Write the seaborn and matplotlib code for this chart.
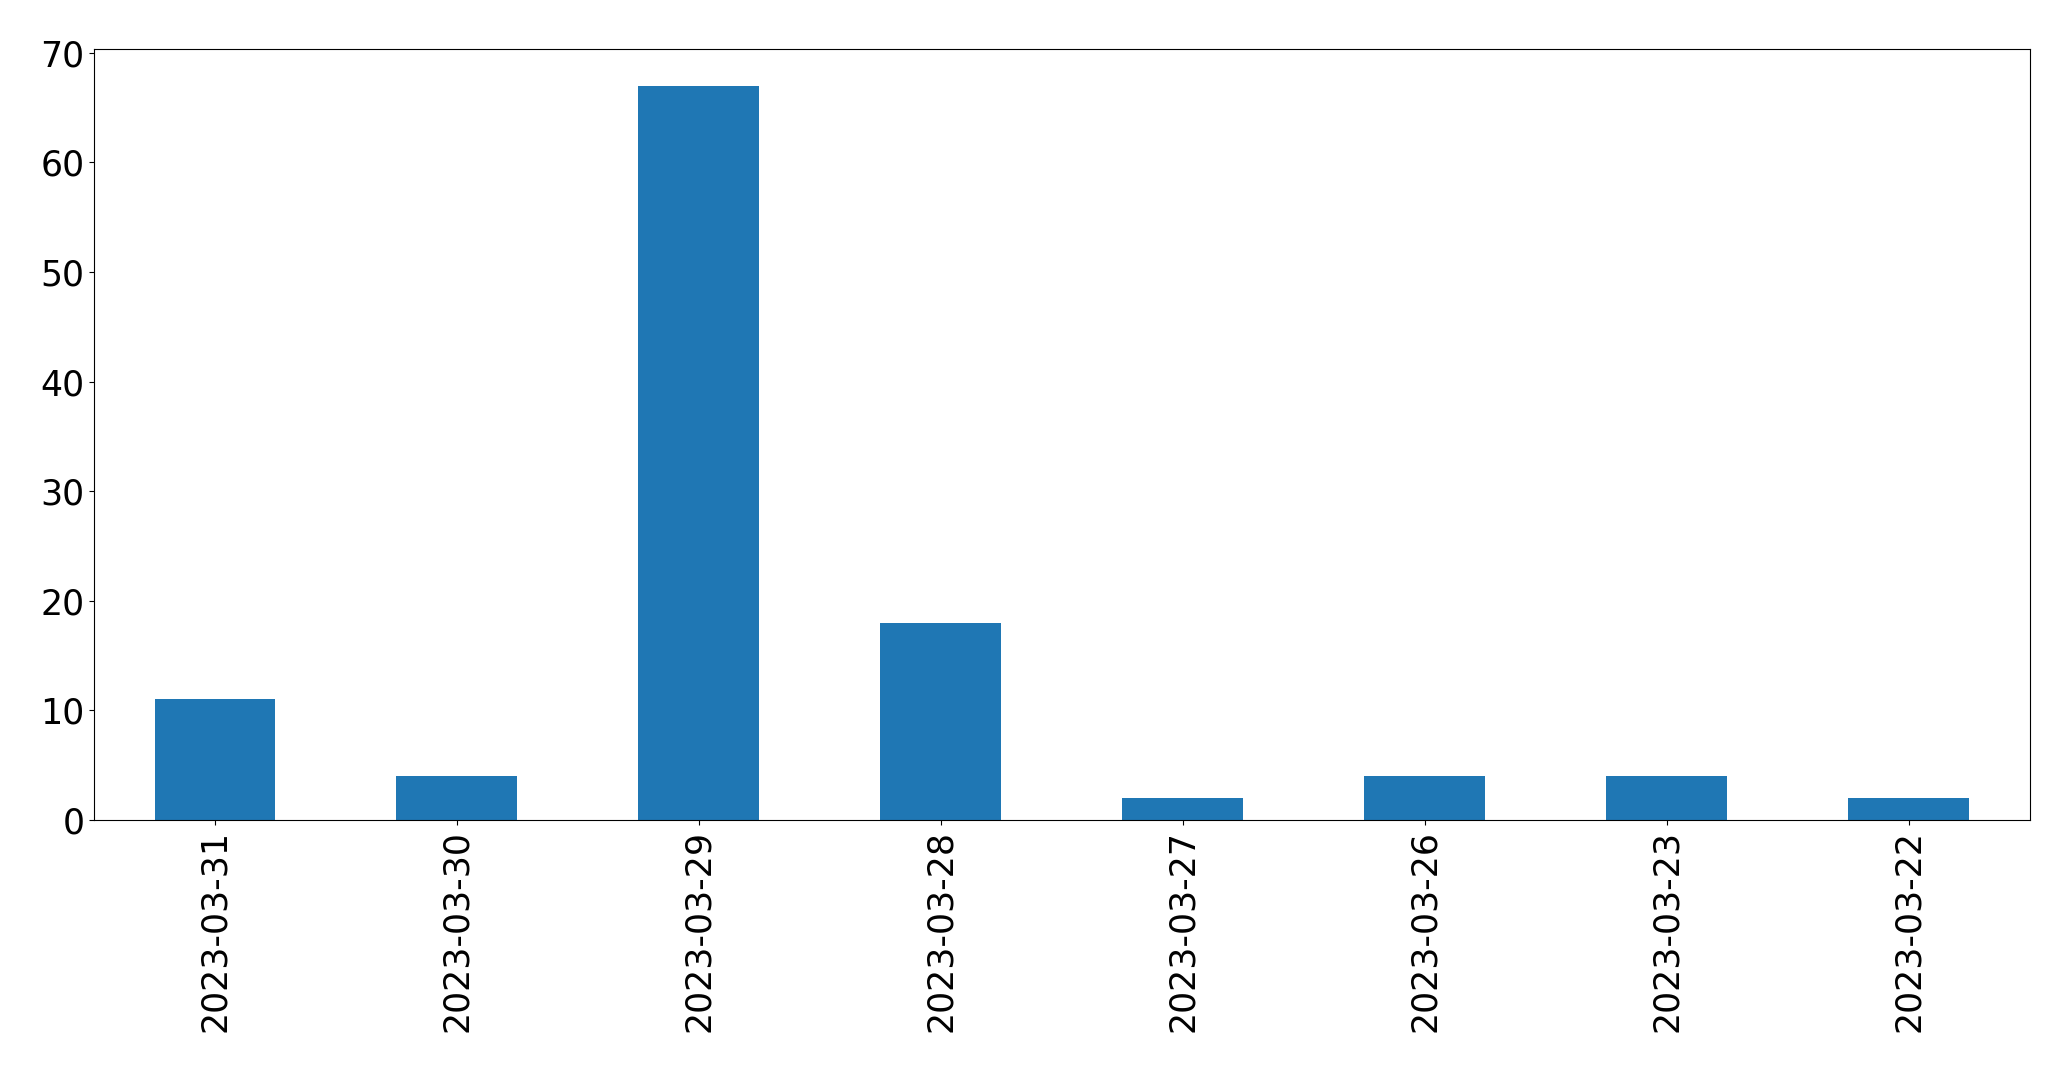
import numpy as np
import pandas as pd
import matplotlib
matplotlib.use("Agg")
import matplotlib.pyplot as plt
import seaborn as sns

# counts per day, as shown in the picture
dates = ["2023-03-31", "2023-03-30", "2023-03-29", "2023-03-28",
         "2023-03-27", "2023-03-26", "2023-03-23", "2023-03-22"]
counts = [11, 4, 67, 18, 2, 4, 4, 2]

df = pd.DataFrame({"date": dates, "count": counts})

fig = plt.figure(figsize=(20.71, 10.71), dpi=100)
ax = fig.add_axes([0.0454, 0.2344, 0.9346, 0.7198])
sns.barplot(data=df, x="date", y="count", order=dates, color="#1f77b4",
            saturation=1, width=0.5, linewidth=0, edgecolor="none", ax=ax)
ax.set_xlim(-0.5, len(dates) - 0.5)
ax.set_ylim(0, max(counts) * 1.05)
ax.set_xlabel("")
ax.set_ylabel("")
ax.tick_params(axis="both", labelsize=25)
ax.tick_params(axis="x", labelrotation=90)
fig.savefig("out.png", dpi=100)
